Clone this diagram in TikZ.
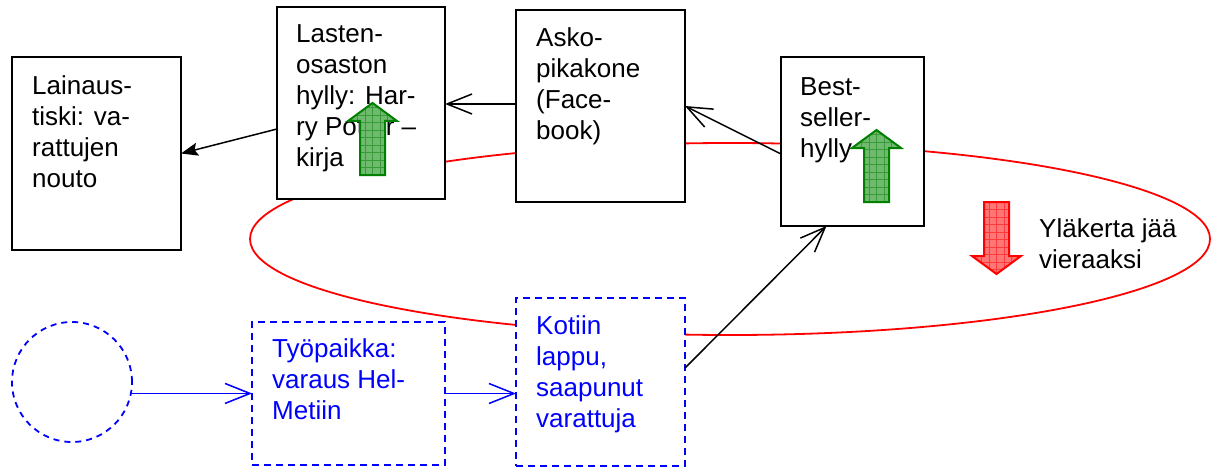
\documentclass[tikz,border=0pt]{standalone}
\usepackage{fontspec}
\setmainfont{Liberation Sans}
\usetikzlibrary{arrows.meta,calc}

\definecolor{gfill}{RGB}{112,186,112}
\definecolor{gline}{RGB}{0,128,0}
\definecolor{rfill}{RGB}{255,118,118}
\definecolor{rline}{RGB}{255,0,0}
\definecolor{linkblue}{RGB}{0,0,255}

\tikzset{
  box/.style={draw, fill=white, line width=2pt, outer sep=0pt, inner sep=0pt, anchor=north west},
  bluebox/.style={box, draw=linkblue, line width=1.8pt, dash pattern=on 7pt off 5pt},
  label/.style={anchor=north west, inner sep=0pt, align=left,
    font=\fontsize{26}{31}\selectfont},
  openarrow/.style={line width=1.5pt, -{Straight Barb[length=25pt,width=20pt,line width=1.5pt]}},
  solidarrow/.style={line width=1.5pt, -{Stealth[length=17pt,width=13pt,inset=3pt]}},
  pics/blockarrow/.style 2 args={code={
    \begin{scope}
      \clip (-12.5,0) -- (-12.5,-54) -- (-24.5,-54) -- (0,-72) -- (24.5,-54)
            -- (12.5,-54) -- (12.5,0) -- cycle;
      \fill[#1] (-26,2) rectangle (26,-74);
      \draw[#2, line width=0.4pt, opacity=0.5] (-26.5,-74) grid[step=7.5pt] (26,2);
    \end{scope}
    \draw[#2, line width=2pt, line join=miter]
      (-12.5,0) -- (-12.5,-54) -- (-24.5,-54) -- (0,-72) -- (24.5,-54)
      -- (12.5,-54) -- (12.5,0) -- cycle;
  }}
}

\begin{document}
\begin{tikzpicture}[x=1pt, y=-1pt]
\useasboundingbox (0,0) rectangle (1212,468);

% the loop round the upper floor
\draw[rline, line width=1.8pt] (730,239) ellipse [x radius=480pt, y radius=96pt];

% shelves and desks
\node[box, minimum width=169pt, minimum height=193pt] (laina)  at (12,57)  {};
\node[box, minimum width=168pt, minimum height=192pt] (lasten) at (277,7)  {};
\node[box, minimum width=169pt, minimum height=192pt] (asko)   at (516,10) {};
\node[box, minimum width=143pt, minimum height=169pt] (best)   at (781,57) {};

% the way in
\node[circle, draw=linkblue, line width=1.8pt, dash pattern=on 6pt off 5pt,
      minimum size=120pt, inner sep=0pt, outer sep=0pt] (alku) at (72,382) {};
\node[bluebox, minimum width=193pt, minimum height=143pt] (tyo)  at (252,322) {};
\node[bluebox, minimum width=169pt, minimum height=168pt] (koti) at (516,298) {};

% texts
\node[label] (laina-t)  at (32,72.3)  {\strut Lainaus-\\tiski: va-\\rattujen\\nouto};
\node[label] (lasten-t) at (296,20.3) {\strut Lasten-\\osaston\\hylly: Har-\\ry Potter –\\kirja};
\node[label] (asko-t)   at (536,24.3) {\strut Asko-\\pikakone\\(Face-\\book)};
\node[label] (best-t)   at (800,73.3) {\strut Best-\\seller-\\hylly};
\node[label, text=linkblue] (tyo-t)  at (272,335.3) {\strut Työpaikka:\\varaus Hel-\\Metiin};
\node[label, text=linkblue] (koti-t) at (536,312.3) {\strut Kotiin\\lappu,\\saapunut\\varattuja};
\node[label] (yla-t)    at (1039,215.3) {\strut Yläkerta jää\\vieraaksi};

% block arrows
\pic at (372.5,175) {blockarrow={gfill}{gline}};
\pic at (876.5,202) {blockarrow={gfill}{gline}};
\pic[yscale=-1] at (996.5,202) {blockarrow={rfill}{rline}};

% connectors
\draw[solidarrow] ([yshift=-26pt]lasten.west) -- (laina.east);
\draw[openarrow] ([yshift=2pt]asko.west) -- ([yshift=2pt]asko.west -| lasten.east);
\draw[openarrow] ([yshift=-12.5pt]best.west) -- (asko.east);
\draw[openarrow] ([yshift=14pt]koti.east) -- ([xshift=-26pt]best.south);
\draw[openarrow, draw=linkblue] (alku.-11.5) -- (alku.-11.5 -| tyo.west);
\draw[openarrow, draw=linkblue] (tyo.east) -- (tyo.east -| koti.west);
\end{tikzpicture}
\end{document}
